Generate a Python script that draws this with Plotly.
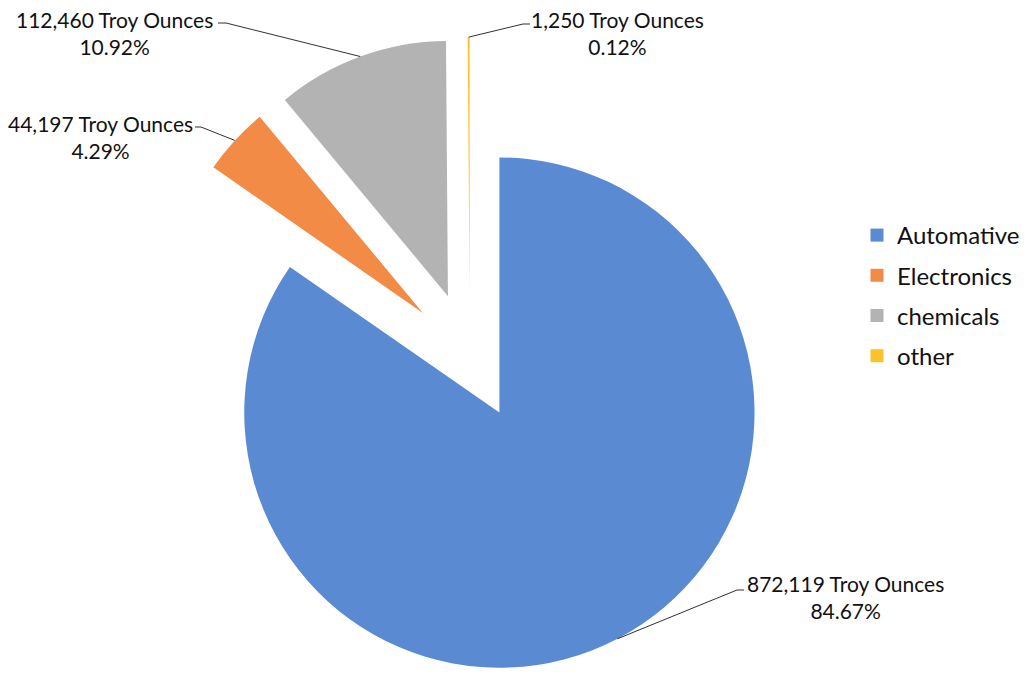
import math
import plotly.graph_objects as go

# Platinum demand by sector
categories = ["Automative", "Electronics", "chemicals", "other"]
ounces = [872119, 44197, 112460, 1250]
colors = ["#5a8bd2", "#f28b45", "#b3b3b3", "#fcc22c"]

W, H = 1027, 675
PULL = 0.25
DOM_X = [0.142, 0.773]
DOM_Y = [0.0, 0.945]
FONT = "Lato"


def to_paper(px, py):
    return px / W, 1 - py / H


# pie geometry, same arithmetic as plotly's own pie layout
box_w = W * (DOM_X[1] - DOM_X[0])
box_h = H * (DOM_Y[1] - DOM_Y[0])
R = min(box_w, box_h) / 2 / (1 + PULL)
CX = W * (DOM_X[0] + DOM_X[1]) / 2
CY = H * (1 - DOM_Y[0]) - box_h / 2

total = sum(ounces)
shares = [v / total for v in ounces]

# label placement: text centre, elbow of leader, end of leader at the text
label_centre = [(845, 597), (100, 137), (114, 33), (617, 33)]
leader_elbow = [(737, 590), (201, 127), (226, 23), (523, 24)]
leader_tail = [(744, 590), (195, 127), (218, 23), (530, 24)]

fig = go.Figure()
fig.add_trace(go.Pie(
    labels=categories,
    values=ounces,
    sort=False,
    direction="clockwise",
    rotation=0,
    pull=[PULL] * len(ounces),
    marker=dict(colors=colors, line=dict(width=0)),
    textinfo="none",
    hoverinfo="label+value+percent",
    domain=dict(x=DOM_X, y=DOM_Y),
    showlegend=False,
))

# legend entries, one group each so they can be spaced apart
for name, col in zip(categories, colors):
    fig.add_trace(go.Scatter(
        x=[None], y=[None], mode="markers", name=name,
        legendgroup=name,
        marker=dict(symbol="square", size=13, color=col),
    ))

annotations = []
shapes = []
cum = 0.0
for i, (v, s) in enumerate(zip(ounces, shares)):
    mid = (cum + s / 2) * 2 * math.pi
    cum += s
    # pulled slice centre and the arc point at the slice's middle
    pcx = CX + PULL * R * math.sin(mid)
    pcy = CY - PULL * R * math.cos(mid)
    ax = pcx + R * math.sin(mid)
    ay = pcy - R * math.cos(mid)
    p0 = to_paper(ax, ay)
    p1 = to_paper(*leader_elbow[i])
    p2 = to_paper(*leader_tail[i])
    shapes.append(dict(
        type="path", xref="paper", yref="paper",
        path=f"M {p0[0]},{p0[1]} L {p1[0]},{p1[1]} L {p2[0]},{p2[1]}",
        line=dict(color="#303030", width=1),
    ))
    tx, ty = to_paper(*label_centre[i])
    annotations.append(dict(
        x=tx, y=ty, xref="paper", yref="paper",
        text=f"{v:,} Troy Ounces<br>{s * 100:.2f}%",
        showarrow=False, align="center",
        xanchor="center", yanchor="middle",
        font=dict(family=FONT, size=21, color="#111111"),
    ))

fig.update_layout(
    width=W, height=H,
    margin=dict(l=0, r=0, t=0, b=0),
    paper_bgcolor="white",
    plot_bgcolor="white",
    xaxis=dict(visible=False),
    yaxis=dict(visible=False),
    shapes=shapes,
    annotations=annotations,
    legend=dict(
        x=(897 - 40) / W, y=to_paper(0, 213)[1],
        xanchor="left", yanchor="top",
        font=dict(family=FONT, size=24, color="#111111"),
        tracegroupgap=6,
        bgcolor="rgba(0,0,0,0)",
    ),
)

fig.write_html("out.html")
